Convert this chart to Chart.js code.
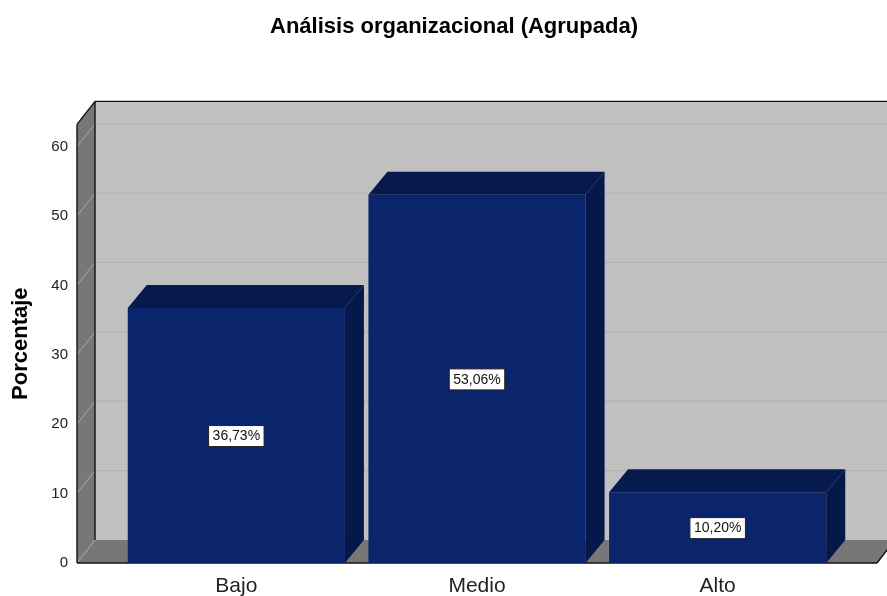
<!DOCTYPE html>
<html><head><meta charset="utf-8">
<style>html,body{margin:0;padding:0;background:#fff;overflow:hidden;width:887px;height:596px}#w{width:887px;height:596px;position:relative}</style>
<script src="https://cdn.jsdelivr.net/npm/chart.js@4"></script></head>
<body><div id="w"><canvas id="c"></canvas></div>
<script>
const categories = ['Bajo', 'Medio', 'Alto'];
const percentages = [36.73, 53.06, 10.20];
const valueLabels = ['36,73%', '53,06%', '10,20%'];
const yTicks = [0, 10, 20, 30, 40, 50, 60];
const titleText = 'Análisis organizacional (Agrupada)';
const yTitle = 'Porcentaje';
const DX = 18, DY = 23, PADX = 39;

function poly(ctx, pts, fill, stroke, lw) {
  ctx.beginPath();
  pts.forEach((p, i) => i ? ctx.lineTo(p[0], p[1]) : ctx.moveTo(p[0], p[1]));
  ctx.closePath();
  if (fill) { ctx.fillStyle = fill; ctx.fill(); }
  if (stroke) { ctx.strokeStyle = stroke; ctx.lineWidth = lw || 1; ctx.stroke(); }
}
function line(ctx, x1, y1, x2, y2, c, w) {
  ctx.beginPath(); ctx.moveTo(x1, y1); ctx.lineTo(x2, y2);
  ctx.strokeStyle = c; ctx.lineWidth = w; ctx.stroke();
}
const box3d = {
  id: 'box3d',
  afterLayout(chart) { chart.titleBlock.right = 908; },
  beforeDatasetsDraw(chart) {
    const { ctx, chartArea: a, scales: { y } } = chart;
    const L = a.left - PADX, R = a.right + PADX, T = a.top, B = a.bottom;
    ctx.save();
    poly(ctx, [[L + DX, T - DY], [R + DX, T - DY], [R + DX, B - DY], [L + DX, B - DY]], '#C0C0C0');
    poly(ctx, [[L, T], [L + DX, T - DY], [L + DX, B - DY], [L, B]], '#777777');
    poly(ctx, [[L, B], [L + DX, B - DY], [R + DX, B - DY], [R, B]], '#777777');
    yTicks.forEach(v => {
      const p = y.getPixelForValue(v);
      line(ctx, L, p, L + DX, p - DY, '#A8A8A8', 1);
      if (v > 0) line(ctx, L + DX, p - DY, R + DX, p - DY, '#B2B2B2', 1.2);
    });
    line(ctx, L, T, L + DX, T - DY, '#111', 1.4);
    line(ctx, L + DX, T - DY, R + DX, T - DY, '#111', 1.4);
    line(ctx, L + DX, T - DY, L + DX, B - DY, '#111', 1.4);
    line(ctx, L, T, L, B, '#111', 1.4);
    line(ctx, L, B, R, B, '#111', 1.6);
    line(ctx, R, B, R + DX, B - DY, '#111', 1.4);
    ctx.restore();
  },
  afterDatasetsDraw(chart) {
    const { ctx } = chart;
    const bars = chart.getDatasetMeta(0).data;
    ctx.save();
    bars.forEach((b, i) => {
      const l = b.x - b.width / 2, r = b.x + b.width / 2, t = b.y, bt = b.base;
      poly(ctx, [[l, t], [l + DX + 1, t - DY], [r + DX + 1, t - DY], [r, t]], '#061A4E');
      poly(ctx, [[r, t], [r + DX + 1, t - DY], [r + DX + 1, bt - DY], [r, bt]], '#04184A');
      const cy = (t + bt) / 2 + 0.5;
      ctx.font = '14px "Liberation Sans"';
      const tw = ctx.measureText(valueLabels[i]).width;
      const w = tw + 8, h = 21;
      ctx.fillStyle = '#fff';
      ctx.fillRect(b.x - w / 2, cy - h / 2, w, h);
      ctx.strokeStyle = '#222'; ctx.lineWidth = 1;
      ctx.strokeRect(b.x - w / 2, cy - h / 2, w, h);
      ctx.fillStyle = '#111'; ctx.textAlign = 'center'; ctx.textBaseline = 'middle';
      ctx.fillText(valueLabels[i], b.x, cy + 0.5);
    });
    ctx.restore();
  }
};
new Chart(document.getElementById('c'), {
  type: 'bar',
  data: { labels: categories, datasets: [{ data: percentages, backgroundColor: '#0A256B', borderWidth: 0,
    barPercentage: 217 / 240.5, categoryPercentage: 1 }] },
  options: {
    responsive: true, maintainAspectRatio: false, animation: false,
    layout: { padding: { left: 0, right: 49, top: 0, bottom: 0 } },
    plugins: {
      legend: { display: false }, tooltip: { enabled: false },
      title: { display: true, text: titleText, color: '#000',
        font: { family: '"Liberation Sans"', size: 22, weight: 'bold', lineHeight: 1.2 },
        padding: { top: 14, bottom: 84 } }
    },
    scales: {
      x: { grid: { display: false, drawTicks: false }, border: { display: false },
        ticks: { color: '#222', font: { family: '"Liberation Sans"', size: 21 }, padding: 11, maxRotation: 0 },
        afterFit(s) { s.height = 33; s.paddingLeft = s.paddingRight = 0; } },
      y: { min: 0, max: 63.2, grid: { display: false, drawTicks: false }, border: { display: false },
        afterBuildTicks(s) { s.ticks = yTicks.map(v => ({ value: v })); },
        ticks: { color: '#222', font: { family: '"Liberation Sans"', size: 15 }, padding: 48 },
        title: { display: true, text: yTitle, color: '#000', font: { family: '"Liberation Sans"', size: 22, weight: 'bold' }, padding: { top: 8, bottom: 0 } },
        afterFit(s) { s.width = 116; s.paddingTop = s.paddingBottom = 0; } }
    }
  },
  plugins: [box3d]
});
</script></body></html>
